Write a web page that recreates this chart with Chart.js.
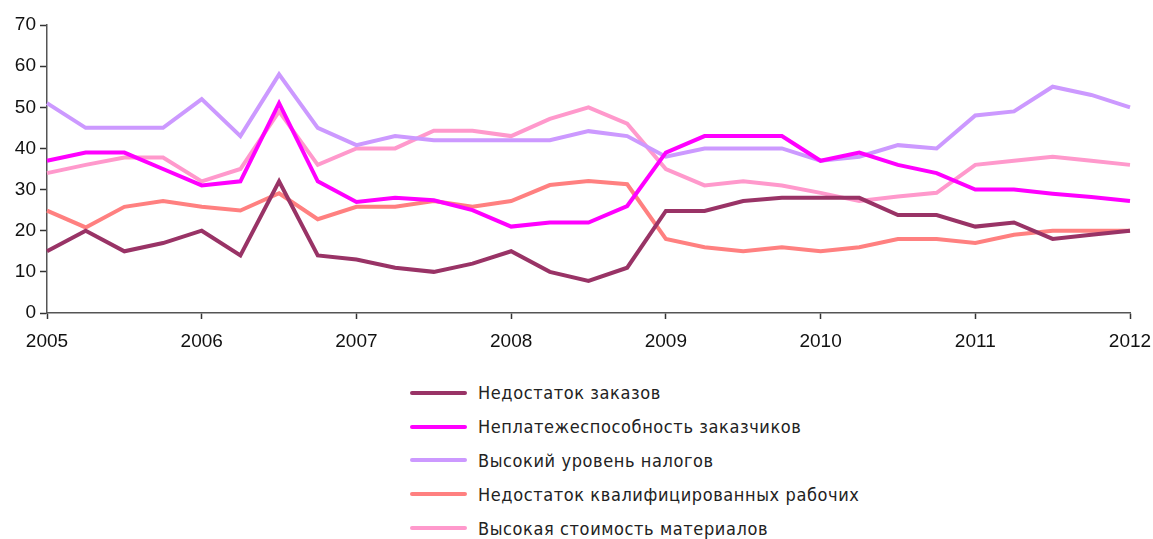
<!DOCTYPE html>
<html>
<head>
<meta charset="utf-8">
<script src="https://cdn.jsdelivr.net/npm/chart.js@4.4.1/dist/chart.umd.min.js"></script>
<style>
  body { margin: 0; background: #fff; }
  #wrap { position: relative; width: 1153px; height: 539px; }
  #legend { position: absolute; left: 410px; top: 376px; font-family: "DejaVu Sans Condensed", "DejaVu Sans", sans-serif; font-size: 18px; letter-spacing: 0.6px; color: #222; }
  .item { height: 33.8px; display: flex; align-items: center; }
  .item span.line { display: inline-block; width: 57px; height: 4px; margin-right: 11px; border-radius: 2px; }
</style>
</head>
<body>
<div id="wrap">
  <canvas id="chart" width="1153" height="365"></canvas>
  <div id="legend"></div>
</div>
<script>
var quarters = [];
var years = [2005, 2006, 2007, 2008, 2009, 2010, 2011, 2012];
years.forEach(function (y) {
    if (y < 2012) {
        quarters.push(y + ' I', y + ' II', y + ' III', y + ' IV');
    } else {
        quarters.push(y + ' I');
    }
});

var seriesNames = [
    "Недостаток заказов",
    "Неплатежеспособность заказчиков",
    "Высокий уровень налогов",
    "Недостаток квалифицированных рабочих",
    "Высокая стоимость материалов"
];

var lackOrders   = [15, 20, 15, 17, 20, 14, 32, 14, 13, 11, 10, 12, 15, 10, 7.8, 11, 24.8, 24.8, 27.2, 28, 28, 28, 23.8, 23.8, 21, 22, 18, 19, 20];
var insolvency   = [37, 39, 39, 35, 31, 32, 51, 32, 27, 28, 27.4, 25, 21, 22, 22, 26, 39, 43, 43, 43, 37, 39, 36, 34, 30, 30, 29, 28.2, 27.2];
var highTaxes    = [51, 45, 45, 45, 52, 43, 58, 45, 40.8, 43, 42, 42, 42, 42, 44.2, 43, 38, 40, 40, 40, 37, 38, 40.8, 40, 48, 49, 55, 53, 50];
var lackWorkers  = [24.9, 20.8, 25.8, 27.2, 25.8, 24.9, 29.1, 22.8, 25.8, 25.8, 27.2, 25.8, 27.2, 31.1, 32.1, 31.3, 18, 16, 15, 16, 15, 16, 18, 18, 17, 19, 20, 20, 20];
var materials    = [34, 36, 37.8, 37.8, 32, 35, 49, 36, 40, 40, 44.3, 44.3, 43, 47.2, 50, 46, 35, 31, 32, 31, 29.2, 27.2, 28.3, 29.2, 36, 37, 38, 37, 36];

var colors = ["#993366", "#FF00FF", "#CC99FF", "#FF8080", "#FF99CC"];
var allSeries = [lackOrders, insolvency, highTaxes, lackWorkers, materials];

var yTicks = [0, 10, 20, 30, 40, 50, 60, 70];

var tickFont = { family: "'Liberation Sans Narrow', 'Liberation Sans', Arial, sans-serif", size: 19 };

var datasets = allSeries.map(function (vals, i) {
    return {
        label: seriesNames[i],
        data: vals,
        borderColor: colors[i],
        backgroundColor: colors[i],
        borderWidth: 4,
        pointRadius: 0,
        tension: 0,
        fill: false
    };
});

var ctx = document.getElementById("chart");
var chart = new Chart(ctx, {
    type: 'line',
    data: { labels: quarters, datasets: datasets },
    options: {
        animation: false,
        responsive: false,
        maintainAspectRatio: false,
        layout: { padding: { top: 25, right: 23, left: 0, bottom: 0 } },
        plugins: {
            legend: { display: false },
            tooltip: { enabled: false }
        },
        scales: {
            x: {
                offset: false,
                border: { color: '#555', width: 1.5 },
                grid: {
                    drawOnChartArea: false,
                    tickLength: 6,
                    tickWidth: 1.5,
                    color: function (c) {
                        return c.index % 4 === 0 ? '#333' : 'rgba(0,0,0,0)';
                    }
                },
                ticks: {
                    autoSkip: false,
                    maxRotation: 0,
                    padding: 11,
                    color: '#111',
                    font: tickFont,
                    callback: function (v, i) {
                        return i % 4 === 0 ? String(years[i / 4]) : '';
                    }
                },
                afterFit: function (s) {
                    s.height = 52;
                    s.paddingLeft = 0;
                    s.paddingRight = 0;
                }
            },
            y: {
                min: 0,
                max: 70,
                border: { color: '#555', width: 1.5 },
                grid: { drawOnChartArea: false, tickLength: 7, tickWidth: 1.5, color: '#333' },
                afterBuildTicks: function (s) {
                    s.ticks = yTicks.map(function (v) { return { value: v }; });
                },
                ticks: {
                    padding: 4,
                    color: '#111',
                    font: tickFont
                },
                afterFit: function (s) { s.width = 47; }
            }
        }
    }
});

var legendEl = document.getElementById("legend");
chart.data.datasets.forEach(function (ds) {
    var row = document.createElement("div");
    row.className = "item";
    var ln = document.createElement("span");
    ln.className = "line";
    ln.style.background = ds.borderColor;
    var tx = document.createElement("span");
    tx.textContent = ds.label;
    row.appendChild(ln);
    row.appendChild(tx);
    legendEl.appendChild(row);
});
</script>
</body>
</html>
